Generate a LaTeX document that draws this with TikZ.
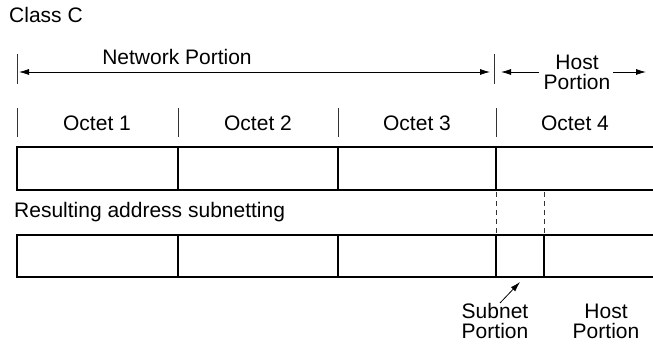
\documentclass[tikz,border=0pt]{standalone}
\usepackage{fontspec}
\setmainfont{Liberation Sans}
\usetikzlibrary{arrows.meta}
\begin{document}
\begin{tikzpicture}[x=1pt,y=-1pt,
  lbl/.style={inner sep=0pt,font=\fontsize{21}{22}\selectfont},
  boxline/.style={line width=1.4pt,line cap=rect},
  tick/.style={line width=0.8pt,black!80},
  dim/.style={line width=0.8pt,-{Latex[length=10pt,width=6pt]}},
  dashline/.style={line width=0.8pt,dash pattern=on 5pt off 4pt,black!80}]
\useasboundingbox (0,0) rectangle (653,344);
% texts
\node[lbl,anchor=west] (classc) at (9,15) {Class C};
\node[lbl] (net) at (177,57) {Network Portion};
\node[lbl,align=center] (host) at (577,72) {Host\\[-2pt]Portion};
\node[lbl] (o1) at (97,123) {Octet 1};
\node[lbl] (o2) at (258,123) {Octet 2};
\node[lbl] (o3) at (417,123) {Octet 3};
\node[lbl] (o4) at (575,123) {Octet 4};
\node[lbl,anchor=west] (res) at (14,212) {Resulting address subnetting};
\node[lbl,align=center] (sub) at (495,321) {Subnet\\[-2pt]Portion};
\node[lbl,align=center] (hp) at (606,321) {Host\\[-2pt]Portion};
% dimension ticks
\coordinate (t0a) at (17,54); \coordinate (t0b) at (17,84);
\coordinate (t1a) at (494,54); \coordinate (t1b) at (494,84);
\draw[tick] (t0a) -- (t0b);
\draw[tick] (t1a) -- (t1b);
\coordinate (nl) at (19,72); \coordinate (nr) at (490,72);
\coordinate (nm) at (177,72);
\draw[dim] (nm) -- (nr);
\draw[dim] (nm) -- (nl);
\coordinate (hl) at (501,72); \coordinate (hr) at (646,72);
\coordinate (hl0) at (539,72); \coordinate (hr0) at (613,72);
\draw[dim] (hl0) -- (hl);
\draw[dim] (hr0) -- (hr);
% octet ticks
\foreach \x in {17,178,338,496} \draw[tick] (\x,108) -- (\x,137);
% top box
\coordinate (a1) at (17,147); \coordinate (a2) at (653,147);
\coordinate (a3) at (17,190); \coordinate (a4) at (653,190);
\draw[boxline] (a2) -- (a1) -- (a3) -- (a4);
\foreach \x in {178,338,496} \draw[boxline] (\x,147) -- (\x,190);
% dashed
\draw[dashline] (496,192) -- (496,233);
\draw[dashline] (544,192) -- (544,233);
% bottom box
\coordinate (b1) at (17,235); \coordinate (b2) at (653,235);
\coordinate (b3) at (17,277); \coordinate (b4) at (653,277);
\draw[boxline] (b2) -- (b1) -- (b3) -- (b4);
\foreach \x in {178,338,496,544} \draw[boxline] (\x,235) -- (\x,277);
% subnet arrow
\coordinate (sa) at (500,303); \coordinate (sb) at (520,282);
\draw[dim] (sa) -- (sb);
\end{tikzpicture}
\end{document}
